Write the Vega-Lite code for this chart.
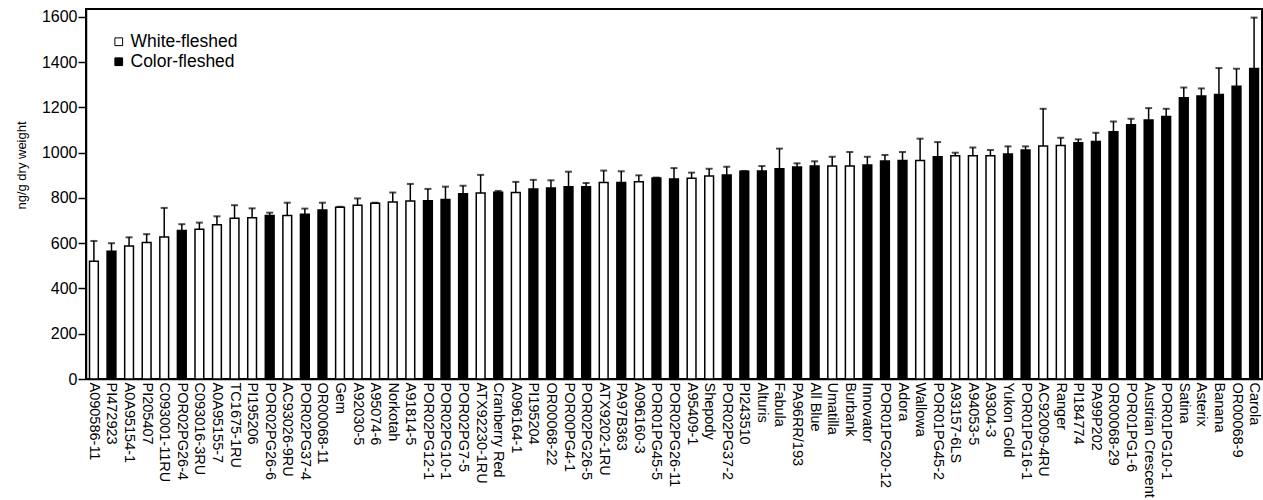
{
  "$schema": "https://vega.github.io/schema/vega-lite/v6.json",
  "width": 1176,
  "height": 370,
  "autosize": {"type": "none"},
  "padding": {"left": 86, "top": 9, "right": 1, "bottom": 121},
  "background": "white",
  "config": {
    "font": "Liberation Sans",
    "view": {"stroke": "black", "strokeWidth": 2},
    "axis": {"grid": false, "labelColor": "black", "titleColor": "black", "domainColor": "black", "tickColor": "black"}
  },
  "data": {
    "values": [
      {"name": "A090586-11", "type": "White-fleshed", "value": 520, "upper": 610},
      {"name": "PI472923", "type": "Color-fleshed", "value": 565, "upper": 600},
      {"name": "A0A95154-1", "type": "White-fleshed", "value": 588, "upper": 626},
      {"name": "PI205407", "type": "White-fleshed", "value": 603, "upper": 640},
      {"name": "C093001-11RU", "type": "White-fleshed", "value": 627, "upper": 756},
      {"name": "POR02PG26-4", "type": "Color-fleshed", "value": 656, "upper": 684},
      {"name": "C093016-3RU", "type": "White-fleshed", "value": 662, "upper": 691},
      {"name": "A0A95155-7", "type": "White-fleshed", "value": 682, "upper": 719},
      {"name": "TC1675-1RU", "type": "White-fleshed", "value": 710, "upper": 768},
      {"name": "PI195206", "type": "White-fleshed", "value": 713, "upper": 754},
      {"name": "POR02PG26-6", "type": "Color-fleshed", "value": 723, "upper": 735},
      {"name": "AC93026-9RU", "type": "White-fleshed", "value": 723, "upper": 779},
      {"name": "POR02PG37-4", "type": "Color-fleshed", "value": 728, "upper": 753},
      {"name": "OR00068-11", "type": "Color-fleshed", "value": 747, "upper": 779},
      {"name": "Gem", "type": "White-fleshed", "value": 759, "upper": 761},
      {"name": "A92030-5", "type": "White-fleshed", "value": 768, "upper": 798},
      {"name": "A95074-6", "type": "White-fleshed", "value": 777, "upper": 779},
      {"name": "Norkotah", "type": "White-fleshed", "value": 782, "upper": 824},
      {"name": "A91814-5", "type": "White-fleshed", "value": 787, "upper": 862},
      {"name": "POR02PG12-1", "type": "Color-fleshed", "value": 788, "upper": 840},
      {"name": "POR02PG10-1", "type": "Color-fleshed", "value": 793, "upper": 850},
      {"name": "POR02PG7-5", "type": "Color-fleshed", "value": 819, "upper": 854},
      {"name": "ATX92230-1RU", "type": "White-fleshed", "value": 822, "upper": 902},
      {"name": "Cranberry Red", "type": "Color-fleshed", "value": 825, "upper": 831},
      {"name": "A096164-1", "type": "White-fleshed", "value": 824, "upper": 871},
      {"name": "PI195204", "type": "Color-fleshed", "value": 840, "upper": 880},
      {"name": "OR00068-22", "type": "Color-fleshed", "value": 844, "upper": 878},
      {"name": "POR00PG4-1", "type": "Color-fleshed", "value": 850, "upper": 916},
      {"name": "POR02PG26-5", "type": "Color-fleshed", "value": 850, "upper": 866},
      {"name": "ATX9202-1RU", "type": "White-fleshed", "value": 868, "upper": 921},
      {"name": "PA97B363", "type": "Color-fleshed", "value": 868, "upper": 918},
      {"name": "A096160-3", "type": "White-fleshed", "value": 872, "upper": 900},
      {"name": "POR01PG45-5", "type": "Color-fleshed", "value": 888, "upper": 890},
      {"name": "POR02PG26-11", "type": "Color-fleshed", "value": 884, "upper": 932},
      {"name": "A95409-1", "type": "White-fleshed", "value": 887, "upper": 912},
      {"name": "Shepody", "type": "White-fleshed", "value": 897, "upper": 929},
      {"name": "POR02PG37-2", "type": "Color-fleshed", "value": 901, "upper": 938},
      {"name": "PI243510", "type": "Color-fleshed", "value": 918, "upper": 919},
      {"name": "Alturis", "type": "Color-fleshed", "value": 919, "upper": 941},
      {"name": "Fabula", "type": "Color-fleshed", "value": 929, "upper": 1018},
      {"name": "PA96RR/193", "type": "Color-fleshed", "value": 937, "upper": 953},
      {"name": "All Blue", "type": "Color-fleshed", "value": 941, "upper": 962},
      {"name": "Umatilla", "type": "White-fleshed", "value": 941, "upper": 982},
      {"name": "Burbank", "type": "White-fleshed", "value": 941, "upper": 1003},
      {"name": "Innovator", "type": "Color-fleshed", "value": 946, "upper": 982},
      {"name": "POR01PG20-12", "type": "Color-fleshed", "value": 963, "upper": 990},
      {"name": "Adora", "type": "Color-fleshed", "value": 966, "upper": 1003},
      {"name": "Wallowa", "type": "White-fleshed", "value": 965, "upper": 1062},
      {"name": "POR01PG45-2", "type": "Color-fleshed", "value": 982, "upper": 1047},
      {"name": "A93157-6LS", "type": "White-fleshed", "value": 987, "upper": 1000},
      {"name": "A94053-5", "type": "White-fleshed", "value": 987, "upper": 1023},
      {"name": "A9304-3", "type": "White-fleshed", "value": 987, "upper": 1012},
      {"name": "Yukon Gold", "type": "Color-fleshed", "value": 994, "upper": 1028},
      {"name": "POR01PG16-1", "type": "Color-fleshed", "value": 1012, "upper": 1028},
      {"name": "AC92009-4RU", "type": "White-fleshed", "value": 1030, "upper": 1194},
      {"name": "Ranger", "type": "White-fleshed", "value": 1032, "upper": 1066},
      {"name": "PI184774", "type": "Color-fleshed", "value": 1044, "upper": 1059},
      {"name": "PA99P202", "type": "Color-fleshed", "value": 1050, "upper": 1088},
      {"name": "OR00068-29", "type": "Color-fleshed", "value": 1093, "upper": 1138},
      {"name": "POR01PG1-6", "type": "Color-fleshed", "value": 1124, "upper": 1150},
      {"name": "Austrian Crescent", "type": "Color-fleshed", "value": 1144, "upper": 1197},
      {"name": "POR01PG10-1", "type": "Color-fleshed", "value": 1160, "upper": 1194},
      {"name": "Satina", "type": "Color-fleshed", "value": 1243, "upper": 1288},
      {"name": "Asterix", "type": "Color-fleshed", "value": 1251, "upper": 1284},
      {"name": "Banana", "type": "Color-fleshed", "value": 1257, "upper": 1374},
      {"name": "OR00068-9", "type": "Color-fleshed", "value": 1294, "upper": 1371},
      {"name": "Carola", "type": "Color-fleshed", "value": 1372, "upper": 1597}
    ]
  },
  "encoding": {
    "x": {
      "field": "name", "type": "nominal", "sort": null,
      "scale": {"paddingInner": 0.5, "paddingOuter": 0.2},
      "axis": {
        "title": null, "labelAngle": 90, "labelAlign": "left", "labelBaseline": "middle",
        "labelFontSize": 14.5, "labelPadding": 3, "ticks": false, "labelOverlap": false,
        "labelLimit": 0, "domainWidth": 1.5
      }
    }
  },
  "layer": [
    {
      "mark": {"type": "rule", "stroke": "black", "strokeWidth": 1.5},
      "encoding": {
        "y": {"field": "value", "type": "quantitative"},
        "y2": {"field": "upper"}
      }
    },
    {
      "mark": {"type": "tick", "color": "black", "size": 7, "thickness": 2, "orient": "horizontal"},
      "encoding": {
        "y": {"field": "upper", "type": "quantitative"}
      }
    },
    {
      "mark": {"type": "bar", "stroke": "black", "strokeWidth": 1.5},
      "encoding": {
        "y": {
          "field": "value", "type": "quantitative",
          "scale": {"domain": [0, 1635], "nice": false, "zero": true},
          "axis": {
            "values": [0, 200, 400, 600, 800, 1000, 1200, 1400, 1600], "format": "d",
            "title": "ng/g dry weight", "titleFontSize": 13, "titleFontWeight": "normal",
            "titleX": -61, "titleY": 156, "titleAngle": -90, "titleAlign": "center", "titleBaseline": "alphabetic",
            "labelFontSize": 16, "labelPadding": 1, "tickSize": 8, "tickWidth": 1.5, "domainWidth": 1.5
          }
        },
        "fill": {
          "field": "type", "type": "nominal",
          "scale": {"domain": ["White-fleshed", "Color-fleshed"], "range": ["white", "black"]},
          "legend": {
            "title": null, "orient": "none", "legendX": 24, "legendY": 24, "padding": 0,
            "symbolType": "square", "symbolSize": 60, "symbolStrokeColor": "black", "symbolStrokeWidth": 1,
            "labelFontSize": 17.5, "labelColor": "black", "rowPadding": 1, "labelOffset": 3
          }
        }
      }
    }
  ]
}
